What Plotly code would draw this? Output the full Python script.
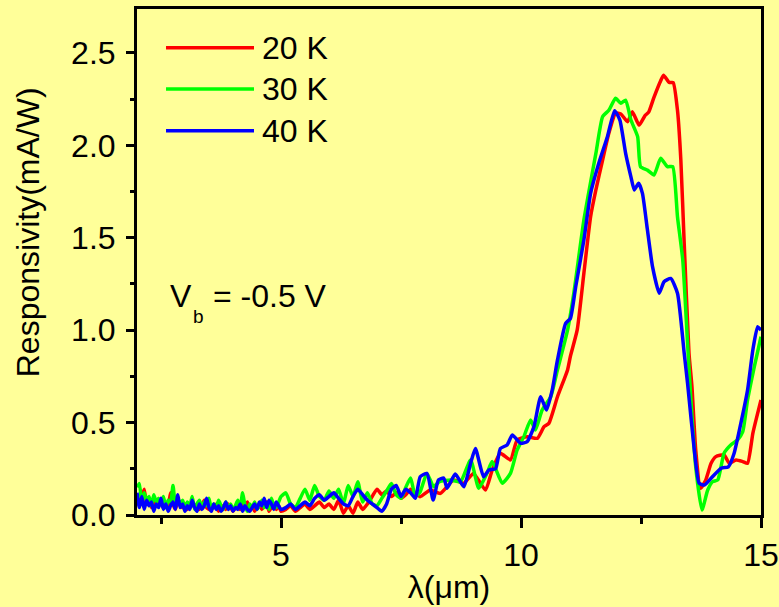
import plotly.graph_objects as go

# ---------------- data ----------------
series_names = ["20 K", "30 K", "40 K"]
series_colors = ["#FF0000", "#00FF00", "#0000FF"]

# wavelength grid of the noisy low-signal part (µm)
wl_fine = [round(2.0 + 0.05 * i, 2) for i in range(61)]      # 2.00 .. 5.00
wl_coarse = [round(5.1 + 0.1 * i, 1) for i in range(28)]     # 5.1 .. 7.8
wl_low = wl_fine + wl_coarse

red_low = [0.08, 0.05, 0.10, 0.14, 0.06, 0.09, 0.04, 0.07, 0.05, 0.08,
           0.06, 0.04, 0.07, 0.05, 0.12, 0.06, 0.03, 0.08, 0.05, 0.04,
           0.06, 0.03, 0.05, 0.07, 0.04, 0.06, 0.03, 0.05, 0.08, 0.04,
           0.03, 0.05, 0.04, 0.06, 0.02, 0.04, 0.05, 0.03, 0.06, 0.04,
           0.02, 0.04, 0.05, 0.03, 0.06, 0.04, 0.07, 0.03, 0.05, 0.02,
           0.04, 0.06, 0.03, 0.05, 0.07, 0.02, 0.04, 0.06, 0.03, 0.05,
           0.02,
           0.03, 0.05, 0.02, 0.04, 0.06, 0.03, 0.05, 0.07, 0.04, 0.06,
           0.03, 0.08, 0.01, 0.05, 0.01, 0.07, 0.03, 0.06, 0.10, 0.14,
           0.11, 0.13, 0.10, 0.12, 0.09, 0.11, 0.14, 0.12]
green_low = [0.15, 0.17, 0.06, 0.12, 0.08, 0.10, 0.05, 0.11, 0.07, 0.09,
             0.06, 0.10, 0.04, 0.08, 0.07, 0.16, 0.05, 0.09, 0.06, 0.08,
             0.04, 0.07, 0.05, 0.10, 0.03, 0.06, 0.08, 0.04, 0.07, 0.05,
             0.09, 0.03, 0.06, 0.04, 0.08, 0.05, 0.03, 0.07, 0.04, 0.06,
             0.03, 0.05, 0.08, 0.04, 0.12, 0.05, 0.02, 0.06, 0.04, 0.07,
             0.03, 0.05, 0.08, 0.04, 0.06, 0.03, 0.09, 0.05, 0.04, 0.07,
             0.10,
             0.12, 0.06, 0.04, 0.09, 0.14, 0.08, 0.16, 0.10, 0.08, 0.13,
             0.09, 0.14, 0.06, 0.16, 0.10, 0.18, 0.07, 0.12, 0.06, 0.05,
             0.09, 0.13, 0.17, 0.11, 0.09, 0.15, 0.20, 0.10]
blue_low = [0.12, 0.04, 0.10, 0.03, 0.08, 0.05, 0.07, 0.02, 0.06, 0.04,
            0.09, 0.03, 0.06, 0.02, 0.05, 0.07, 0.03, 0.11, 0.04, 0.06,
            0.02, 0.05, 0.03, 0.08, 0.04, 0.02, 0.06, 0.03, 0.05, 0.09,
            0.04, 0.02, 0.06, 0.03, 0.05, 0.02, 0.04, 0.07, 0.03, 0.05,
            0.02, 0.04, 0.03, 0.06, 0.02, 0.05, 0.03, 0.02, 0.04, 0.06,
            0.03, 0.07, 0.05, 0.09, 0.04, 0.08, 0.06, 0.03, 0.07, 0.05,
            0.03,
            0.04, 0.06, 0.03, 0.05, 0.07, 0.05, 0.09, 0.11, 0.08, 0.10,
            0.12, 0.09, 0.06, 0.05, 0.10, 0.14, 0.11, 0.08, 0.06, 0.04,
            0.02, 0.06, 0.14, 0.16, 0.10, 0.14, 0.12, 0.09]

# peak part (µm, mA/W)
red_wl_hi = [7.90, 8.11, 8.32, 8.60, 8.81, 9.01, 9.26, 9.40, 9.57, 9.78,
             9.92, 10.13, 10.34, 10.48, 10.58, 10.76, 10.97, 11.03, 11.17, 11.31,
             11.45, 11.56, 11.70, 11.83, 11.97, 12.08, 12.22, 12.32, 12.46, 12.58,
             12.66, 12.77, 12.91, 12.97, 13.09, 13.17, 13.26, 13.33, 13.40, 13.50,
             13.56, 13.64, 13.74, 13.85, 13.96, 14.06, 14.23, 14.34, 14.48, 14.62,
             14.72, 14.83, 14.93, 15.0]
red_hi = [0.099, 0.135, 0.117, 0.19, 0.172, 0.225, 0.135, 0.243, 0.334, 0.298,
          0.406, 0.424, 0.415, 0.478, 0.496, 0.64, 0.785, 0.86, 1.0, 1.308,
          1.614, 1.759, 1.921, 2.065, 2.174, 2.17, 2.128, 2.182, 2.11, 2.16,
          2.18, 2.26, 2.35, 2.38, 2.34, 2.34, 2.19, 1.921, 1.47, 0.875,
          0.70, 0.352, 0.145, 0.19, 0.28, 0.316, 0.325, 0.28, 0.298, 0.289,
          0.28, 0.442, 0.55, 0.622]

green_wl_hi = [7.90, 8.04, 8.18, 8.30, 8.53, 8.74, 8.95, 9.12, 9.29, 9.40,
               9.61, 9.78, 9.92, 10.06, 10.20, 10.30, 10.44, 10.62, 10.76, 10.97,
               11.10, 11.31, 11.56, 11.70, 11.83, 11.97, 12.08, 12.18, 12.29, 12.43,
               12.49, 12.63, 12.77, 12.91, 13.05, 13.16, 13.26, 13.37, 13.47, 13.54,
               13.64, 13.77, 13.89, 13.99, 14.10, 14.23, 14.37, 14.51, 14.62, 14.72,
               14.86, 15.0]
green_hi = [0.126, 0.225, 0.153, 0.18, 0.19, 0.18, 0.298, 0.145, 0.225, 0.289,
            0.172, 0.225, 0.352, 0.424, 0.514, 0.46, 0.568, 0.64, 0.785, 1.0,
            1.2, 1.596, 1.957, 2.155, 2.19, 2.255, 2.228, 2.245, 2.137, 2.047,
            1.885, 1.867, 1.84, 1.93, 1.885, 1.885, 1.614, 1.38, 0.929, 0.622,
            0.261, 0.027, 0.135, 0.18, 0.19, 0.334, 0.379, 0.406, 0.451, 0.622,
            0.802, 0.965]

blue_wl_hi = [7.90, 8.04, 8.17, 8.28, 8.39, 8.46, 8.63, 8.81, 8.95, 9.05,
              9.22, 9.33, 9.47, 9.57, 9.71, 9.82, 9.99, 10.13, 10.27, 10.41,
              10.53, 10.65, 10.76, 10.93, 11.03, 11.14, 11.31, 11.45, 11.62, 11.80,
              11.95, 12.06, 12.18, 12.29, 12.36, 12.45, 12.53, 12.63, 12.74, 12.88,
              12.98, 13.12, 13.26, 13.40, 13.47, 13.61, 13.71, 13.82, 13.96, 14.17,
              14.32, 14.44, 14.58, 14.72, 14.83, 14.93, 15.0]
blue_hi = [0.207, 0.225, 0.081, 0.19, 0.20, 0.145, 0.222, 0.153, 0.28, 0.36,
           0.207, 0.243, 0.25, 0.36, 0.379, 0.433, 0.388, 0.397, 0.478, 0.64,
           0.568, 0.676, 0.839, 1.037, 1.064, 1.235, 1.488, 1.74, 1.903, 2.047,
           2.188, 2.137, 1.957, 1.83, 1.759, 1.795, 1.74, 1.55, 1.344, 1.2,
           1.262, 1.28, 1.2, 0.875, 0.713, 0.352, 0.172, 0.162, 0.199, 0.253,
           0.261, 0.334, 0.496, 0.676, 0.893, 1.019, 1.0]

x_ticks = [5, 10, 15]
y_ticks = [0.0, 0.5, 1.0, 1.5, 2.0, 2.5]
x_title = "λ(μm)"
y_title = "Responsivity(mA/W)"

series_x = [wl_low + red_wl_hi, wl_low + green_wl_hi, wl_low + blue_wl_hi]
series_y = [red_low + red_hi, green_low + green_hi, blue_low + blue_hi]

# ---------------- figure ----------------
BG = "#FFFF99"
FONT = "Arial, Liberation Sans, sans-serif"
FS = 32

fig = go.Figure()
for name, color, xs, ys in zip(series_names, series_colors, series_x, series_y):
    fig.add_trace(go.Scatter(x=xs, y=ys, mode="lines", name=name,
                             line=dict(color=color, width=3.5, shape="spline", smoothing=0.5),
                             showlegend=False))

# hand-drawn legend (long line samples like the original)
leg_y = [0.9235, 0.8419, 0.7595]
for name, color, yy in zip(series_names, series_colors, leg_y):
    fig.add_shape(type="line", xref="paper", yref="paper",
                  x0=0.0465, x1=0.1875, y0=yy, y1=yy,
                  line=dict(color=color, width=3.5))
    fig.add_annotation(xref="paper", yref="paper", x=0.197, y=yy,
                       xanchor="left", yanchor="middle", showarrow=False,
                       text=name, font=dict(size=FS, color="black", family=FONT))

# bias-voltage label: V, subscript b, rest
fig.add_annotation(xref="paper", yref="paper", x=0.049, y=0.433,
                   xanchor="left", yanchor="middle", showarrow=False,
                   text="V", font=dict(size=FS, color="black", family=FONT))
fig.add_annotation(xref="paper", yref="paper", x=0.086, y=0.392,
                   xanchor="left", yanchor="middle", showarrow=False,
                   text="b", font=dict(size=19, color="black", family=FONT))
fig.add_annotation(xref="paper", yref="paper", x=0.119, y=0.433,
                   xanchor="left", yanchor="middle", showarrow=False,
                   text="= -0.5 V", font=dict(size=FS, color="black", family=FONT))

# y-axis title (placed like the original, a little above centre)
fig.add_annotation(xref="paper", yref="paper", x=-0.1745, y=0.559,
                   xanchor="center", yanchor="middle", showarrow=False,
                   textangle=-90, text=y_title,
                   font=dict(size=FS, color="black", family=FONT))

fig.update_layout(
    width=779, height=607,
    margin=dict(l=137, r=18, t=9, b=92, autoexpand=False),
    paper_bgcolor=BG, plot_bgcolor=BG,
    font=dict(family=FONT, size=FS, color="black"),
    showlegend=False,
)
fig.update_xaxes(
    range=[2, 15], tickvals=x_ticks, ticktext=[str(v) for v in x_ticks],
    ticks="outside", ticklen=10, tickwidth=3, tickcolor="black",
    minor=dict(dtick=2.5, tick0=0, ticks="outside", ticklen=6, tickwidth=3, tickcolor="black"),
    showline=True, linewidth=3, linecolor="black", mirror=True,
    showgrid=False, zeroline=False, automargin=False,
    tickfont=dict(size=FS),
    title=dict(text=x_title, font=dict(size=FS), standoff=4),
)
fig.update_yaxes(
    range=[0, 2.738], tickvals=y_ticks, ticktext=[f"{v:.1f}" for v in y_ticks],
    ticks="outside", ticklen=8, tickwidth=3, tickcolor="black",
    minor=dict(dtick=0.25, tick0=0, ticks="outside", ticklen=4, tickwidth=3, tickcolor="black"),
    showline=True, linewidth=3, linecolor="black", mirror=True,
    showgrid=False, zeroline=False, automargin=False,
    ticklabelstandoff=4,
    tickfont=dict(size=FS),
)

fig.write_html(
    "out.html",
    config={"displayModeBar": False},
    post_script="document.body.style.margin='0';document.body.style.padding='0';"
                "document.body.style.background='#FFFF99';",
)
